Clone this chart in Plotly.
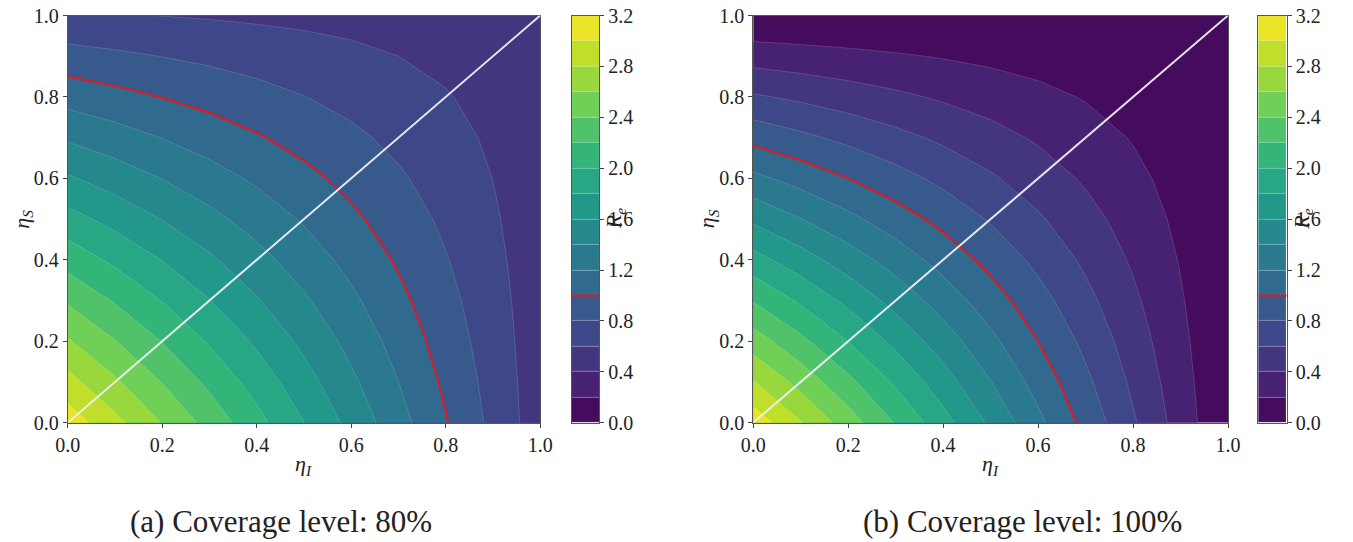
import plotly.graph_objects as go
from plotly.colors import sample_colorscale

# ---------------- data ----------------
eta_I = [0.0, 0.1, 0.2, 0.3, 0.4, 0.5, 0.6, 0.7, 0.8, 0.9, 1.0]
eta_S = [0.0, 0.1, 0.2, 0.3, 0.4, 0.5, 0.6, 0.7, 0.8, 0.9, 1.0]

# rows: eta_S, columns: eta_I  -- panel (a) coverage 80 %
Re_a = [
    [3.120, 2.857, 2.593, 2.330, 2.066, 1.803, 1.540, 1.276, 1.013, 0.749, 0.486],
    [2.871, 2.632, 2.394, 2.155, 1.917, 1.678, 1.440, 1.201, 0.963, 0.724, 0.486],
    [2.621, 2.408, 2.194, 1.980, 1.767, 1.553, 1.340, 1.126, 0.912, 0.699, 0.485],
    [2.372, 2.183, 1.994, 1.806, 1.617, 1.428, 1.240, 1.051, 0.862, 0.674, 0.485],
    [2.122, 1.959, 1.795, 1.631, 1.467, 1.303, 1.140, 0.976, 0.812, 0.648, 0.484],
    [1.873, 1.734, 1.595, 1.456, 1.317, 1.179, 1.040, 0.901, 0.762, 0.623, 0.484],
    [1.624, 1.510, 1.396, 1.282, 1.168, 1.054, 0.940, 0.826, 0.712, 0.598, 0.484],
    [1.374, 1.285, 1.196, 1.107, 1.018, 0.929, 0.840, 0.751, 0.661, 0.572, 0.483],
    [1.125, 1.061, 0.996, 0.932, 0.868, 0.804, 0.740, 0.675, 0.611, 0.547, 0.483],
    [0.875, 0.836, 0.797, 0.758, 0.718, 0.679, 0.640, 0.600, 0.561, 0.522, 0.482],
    [0.626, 0.612, 0.597, 0.583, 0.568, 0.554, 0.540, 0.525, 0.511, 0.496, 0.482],
]

# panel (b) coverage 100 %
Re_b = [
    [3.125, 2.813, 2.500, 2.188, 1.875, 1.563, 1.250, 0.938, 0.625, 0.313, 0.000],
    [2.813, 2.531, 2.250, 1.969, 1.688, 1.406, 1.125, 0.844, 0.563, 0.281, 0.000],
    [2.500, 2.250, 2.000, 1.750, 1.500, 1.250, 1.000, 0.750, 0.500, 0.250, 0.000],
    [2.188, 1.969, 1.750, 1.531, 1.313, 1.094, 0.875, 0.656, 0.438, 0.219, 0.000],
    [1.875, 1.688, 1.500, 1.313, 1.125, 0.938, 0.750, 0.563, 0.375, 0.188, 0.000],
    [1.563, 1.406, 1.250, 1.094, 0.938, 0.781, 0.625, 0.469, 0.313, 0.156, 0.000],
    [1.250, 1.125, 1.000, 0.875, 0.750, 0.625, 0.500, 0.375, 0.250, 0.125, 0.000],
    [0.938, 0.844, 0.750, 0.656, 0.563, 0.469, 0.375, 0.281, 0.188, 0.094, 0.000],
    [0.625, 0.563, 0.500, 0.438, 0.375, 0.313, 0.250, 0.188, 0.125, 0.063, 0.000],
    [0.313, 0.281, 0.250, 0.219, 0.188, 0.156, 0.125, 0.094, 0.063, 0.031, 0.000],
    [0.000, 0.000, 0.000, 0.000, 0.000, 0.000, 0.000, 0.000, 0.000, 0.000, 0.000],
]

level_start = 0.0
level_end = 3.2
level_step = 0.2
threshold = 1.0

axis_ticks = [0.0, 0.2, 0.4, 0.6, 0.8, 1.0]
cbar_ticks = [0.0, 0.4, 0.8, 1.2, 1.6, 2.0, 2.4, 2.8, 3.2]
captions = ["(a) Coverage level: 80%", "(b) Coverage level: 100%"]

# ---------------- styling ----------------
FONT = "Liberation Serif"
W, H = 1353, 542

n_bands = int(round((level_end - level_start) / level_step))
band_colors = sample_colorscale("Viridis", [(k + 0.5) / n_bands for k in range(n_bands)])

# Filled contours start at the first interior level; everything below it is the
# background (lowest band).  Plotly samples band i at start + (i + 0.5) * size,
# mapped onto [start - size/2, end + size/2]  ->  band k sits at s = k / n_bands.
first_level = level_start + level_step
cscale = [[0.0, band_colors[0]]]
for k in range(n_bands - 1):
    b = (k + 0.5) / n_bands
    cscale.append([b, band_colors[k]])
    cscale.append([b, band_colors[k + 1]])
cscale.append([1.0, band_colors[-1]])

band_lows = [level_start + k * level_step for k in range(n_bands)]
band_heights = [level_step] * n_bands


def px_x(p):
    return p / W


def px_y(p):
    return 1 - p / H


# plot areas (pixels)
panels = [
    dict(x0=67.7, x1=540.2, cb0=571.7, cb1=599.3, cap=281),
    dict(x0=753.2, x1=1228.0, cb0=1258.3, cb1=1286.7, cap=1022),
]
top_px, bot_px = 15.5, 422.7
ydom = [px_y(bot_px), px_y(top_px)]

fig = go.Figure()

Zs = [Re_a, Re_b]
for i, Z in enumerate(Zs):
    xa = "x" if i == 0 else "x2"
    ya = "y" if i == 0 else "y2"
    fig.add_trace(go.Contour(
        x=eta_I, y=eta_S, z=Z,
        xaxis=xa, yaxis=ya,
        autocontour=False,
        contours=dict(start=first_level, end=level_end, size=level_step, coloring="fill"),
        colorscale=cscale,
        line=dict(color="rgba(255,255,255,0.25)", width=0.6, smoothing=0),
        showscale=False,
        hoverinfo="skip",
    ))
    fig.add_trace(go.Contour(
        x=eta_I, y=eta_S, z=Z,
        xaxis=xa, yaxis=ya,
        autocontour=False,
        contours=dict(start=threshold, end=threshold, size=level_step, coloring="none"),
        line=dict(color="#e01820", width=2, smoothing=0),
        showscale=False,
        hoverinfo="skip",
    ))
    # diagonal reference line eta_I = eta_S
    fig.add_shape(type="line", x0=0, y0=0, x1=1, y1=1, xref=xa, yref=ya,
                  line=dict(color="rgba(238,238,245,0.95)", width=2))

    # manual colour bar
    cxa = "x3" if i == 0 else "x4"
    cya = "y3" if i == 0 else "y4"
    fig.add_trace(go.Bar(
        x=[0.5] * n_bands, y=band_heights, base=band_lows, width=[1.0] * n_bands,
        marker=dict(color=band_colors, line=dict(color="rgba(255,255,255,0.25)", width=0.6)),
        xaxis=cxa, yaxis=cya, showlegend=False, hoverinfo="skip",
    ))
    fig.add_shape(type="line", x0=0, x1=1, y0=threshold, y1=threshold, xref=cxa, yref=cya,
                  line=dict(color="#e01820", width=2))

axis_common = dict(
    range=[0, 1], showgrid=False, zeroline=False, showline=True, mirror=True,
    linecolor="#555", linewidth=1, ticks="outside", ticklen=4, tickcolor="#444",
    tickvals=axis_ticks, ticktext=[f"{v:.1f}" for v in axis_ticks],
    tickfont=dict(family=FONT, size=20, color="#222"), automargin=False,
)

cb_x_common = dict(range=[0, 1], showgrid=False, zeroline=False, showline=True, mirror=True,
                   linecolor="#555", linewidth=1, showticklabels=False, ticks="",
                   fixedrange=True, automargin=False)
cb_y_common = dict(range=[level_start, level_end], showgrid=False, zeroline=False, showline=True,
                   mirror=True, linecolor="#555", linewidth=1, side="right", ticks="outside",
                   ticklen=4, tickcolor="#444", tickvals=cbar_ticks,
                   ticktext=[f"{v:.1f}" for v in cbar_ticks],
                   tickfont=dict(family=FONT, size=20, color="#222"), automargin=False)

p0, p1 = panels
fig.update_layout(
    width=W, height=H, autosize=False,
    margin=dict(l=0, r=0, t=0, b=0, pad=0),
    paper_bgcolor="white", plot_bgcolor="white",
    showlegend=False, barmode="overlay", bargap=0,
    xaxis=dict(domain=[px_x(p0["x0"]), px_x(p0["x1"])], anchor="y", **axis_common),
    yaxis=dict(domain=ydom, anchor="x", **axis_common),
    xaxis2=dict(domain=[px_x(p1["x0"]), px_x(p1["x1"])], anchor="y2", **axis_common),
    yaxis2=dict(domain=ydom, anchor="x2", **axis_common),
    xaxis3=dict(domain=[px_x(p0["cb0"]), px_x(p0["cb1"])], anchor="y3", **cb_x_common),
    yaxis3=dict(domain=ydom, anchor="x3", **cb_y_common),
    xaxis4=dict(domain=[px_x(p1["cb0"]), px_x(p1["cb1"])], anchor="y4", **cb_x_common),
    yaxis4=dict(domain=ydom, anchor="x4", **cb_y_common),
)

ann = []
label_font = dict(family=FONT, size=22, color="#222")
for i, p in enumerate(panels):
    cx = (p["x0"] + p["x1"]) / 2
    ann.append(dict(x=px_x(cx), y=px_y(465), xref="paper", yref="paper",
                    xanchor="center", yanchor="middle",
                    text="<i>η</i><sub><i>I</i></sub>", showarrow=False, font=label_font))
    ann.append(dict(x=px_x(p["x0"] - 45), y=px_y(219), xref="paper", yref="paper",
                    xanchor="center", yanchor="middle",
                    text="<i>η</i><sub><i>S</i></sub>", showarrow=False, textangle=-90,
                    font=label_font))
    ann.append(dict(x=px_x(p["cb1"] + 16), y=px_y(219), xref="paper", yref="paper",
                    xanchor="center", yanchor="middle",
                    text="<i>R</i><sub><i>e</i></sub>", showarrow=False, textangle=-90,
                    font=label_font))
    ann.append(dict(x=px_x(p["cap"]), y=px_y(521), xref="paper", yref="paper",
                    xanchor="center", yanchor="middle",
                    text=captions[i], showarrow=False,
                    font=dict(family=FONT, size=31, color="#222")))
fig.update_layout(annotations=ann)

# remove the browser's default 8px page margin so the figure sits at the page origin
fig.write_html(
    "out.html",
    config={"displayModeBar": False},
    post_script="document.body.style.margin='0';document.body.style.padding='0';",
)
